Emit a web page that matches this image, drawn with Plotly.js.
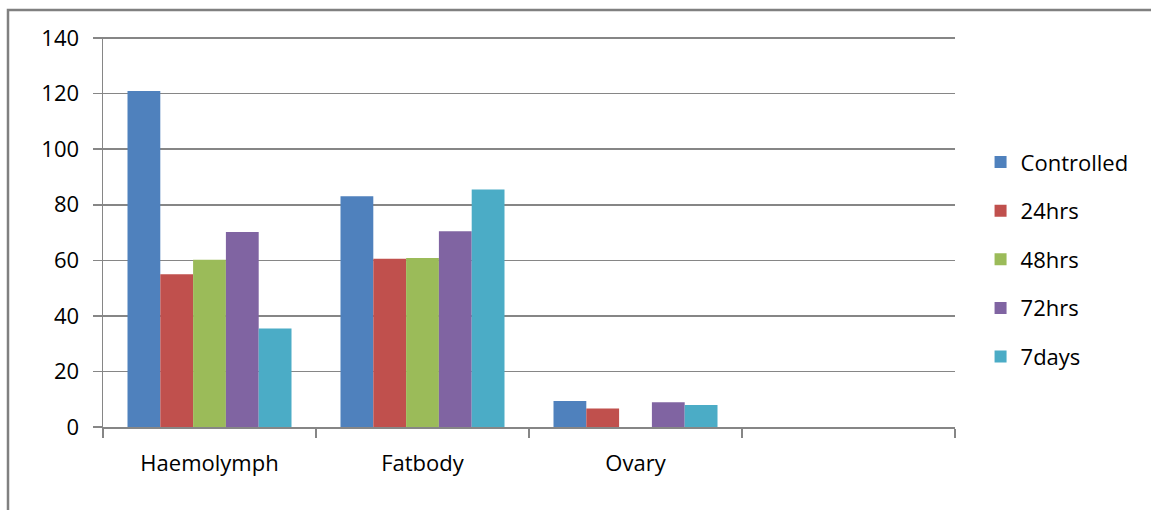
<!DOCTYPE html>
<html>
<head>
<meta charset="utf-8">
<script src="https://cdn.plot.ly/plotly-3.0.1.min.js"></script>
<style>
html,body{margin:0;padding:0;background:#fff;overflow:hidden;width:1151px;height:510px;}
#chart{position:absolute;left:0;top:0;width:1151px;height:510px;}
</style>
</head>
<body>
<div id="chart"></div>
<script>
const categories = ["Haemolymph", "Fatbody", "Ovary", " "];
const seriesNames = ["Controlled", "24hrs", "48hrs", "72hrs", "7days"];
const controlled = [121, 83.1, 9.4, null];
const hrs24 = [55.0, 60.6, 6.7, null];
const hrs48 = [60.2, 60.8, 0, null];
const hrs72 = [70.2, 70.5, 8.9, null];
const days7 = [35.5, 85.5, 7.9, null];
const yTicks = [0, 20, 40, 60, 80, 100, 120, 140];

const colors = ["#4F81BD", "#C0504D", "#9BBB59", "#8064A2", "#4BACC6"];
const values = [controlled, hrs24, hrs48, hrs72, days7];

const FONT = "Open Sans, Liberation Sans, sans-serif";
const traces = values.map((v, i) => ({
  type: "bar",
  name: seriesNames[i],
  x: categories,
  y: v,
  marker: {color: colors[i]},
  legendgroup: "g" + i,
  hoverinfo: "none"
}));

const W = 1151, H = 510, ML = 103, MR = 196, MT = 37, MB = 83;
const pw = W - ML - MR, ph = H - MT - MB;
const fx = px => (px - ML) / pw;
const fy = py => (H - MB - py) / ph;

const layout = {
  width: W, height: H,
  margin: {l: ML, r: MR, t: MT, b: MB},
  paper_bgcolor: "#fff",
  plot_bgcolor: "#fff",
  barmode: "group",
  bargap: 0.23,
  bargroupgap: 0,
  font: {family: FONT, size: 22, color: "#000"},
  xaxis: {
    type: "category",
    tickson: "boundaries",
    ticks: "outside", ticklen: 9, tickcolor: "#868686", tickwidth: 1.5,
    showline: true, linecolor: "#868686", linewidth: 1.5,
    showgrid: false, zeroline: false,
    ticklabelstandoff: 16,
    tickfont: {family: FONT, size: 22, color: "#000"},
    range: [-0.5, 3.5]
  },
  yaxis: {
    range: [0, 140.4],
    tickvals: yTicks,
    ticks: "outside", ticklen: 9, tickcolor: "#868686", tickwidth: 1.5,
    showline: true, linecolor: "#868686", linewidth: 1.5,
    showgrid: true, gridcolor: "#868686", gridwidth: 1.5,
    zeroline: false,
    ticklabelstandoff: 9,
    tickfont: {family: FONT, size: 22, color: "#000"}
  },
  legend: {
    x: 1.03, xanchor: "left",
    y: 0.43, yanchor: "middle",
    traceorder: "grouped",
    tracegroupgap: 17,
    font: {family: FONT, size: 22, color: "#000"},
    bgcolor: "rgba(0,0,0,0)"
  },
  shapes: [{
    type: "path", xref: "paper", yref: "paper", layer: "above",
    path: "M " + fx(8) + "," + fy(515) + " L " + fx(8) + "," + fy(10) + " L " + fx(1160) + "," + fy(10),
    line: {color: "#808080", width: 2.5}
  }],
  showlegend: true
};

Plotly.newPlot("chart", traces, layout, {displayModeBar: false, staticPlot: true});
</script>
</body>
</html>
